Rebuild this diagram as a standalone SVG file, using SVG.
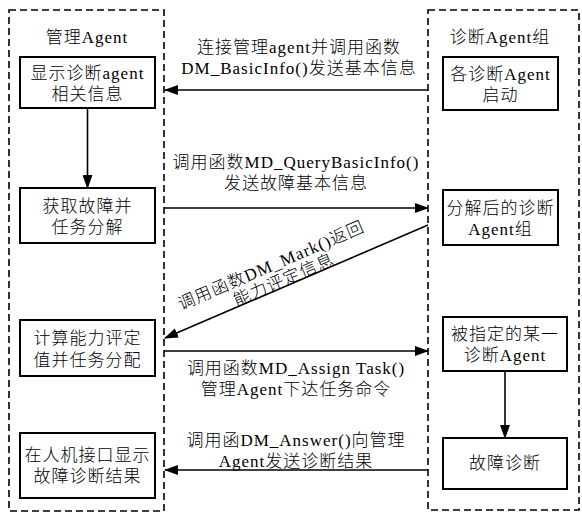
<svg xmlns="http://www.w3.org/2000/svg" width="582" height="515" viewBox="0 0 582 515">
<style>
text{font-family:"Liberation Serif","Noto Sans CJK SC",serif;font-size:17px;font-weight:300;fill:#000;text-anchor:middle;letter-spacing:1px}
.box{fill:#fff;stroke:#000;stroke-width:2}
.dash{fill:none;stroke:#000;stroke-width:1.6;stroke-dasharray:7,4}
.ln{stroke:#000;stroke-width:1.6;fill:none}
</style>
<defs>
<marker id="ah" markerUnits="userSpaceOnUse" markerWidth="14" markerHeight="10" refX="13" refY="5" orient="auto">
<path d="M0,0 L14,5 L0,10 Z" fill="#000"/>
</marker>
</defs>
<g id="lane-manager">
<rect class="dash" x="9" y="10" width="155" height="501"/>
<text x="87" y="43">管理Agent</text>
</g>
<g id="lane-diag">
<rect class="dash" x="428" y="10" width="151" height="500"/>
<text x="500" y="43">诊断Agent组</text>
</g>
<g id="n1"><rect class="box" x="20" y="57" width="135" height="51"/><text x="87.5" y="79">显示诊断agent</text><text x="87.5" y="100">相关信息</text></g>
<g id="n2"><rect class="box" x="20" y="188" width="135" height="55"/><text x="87.5" y="212">获取故障并</text><text x="87.5" y="233">任务分解</text></g>
<g id="n3"><rect class="box" x="20" y="320" width="135" height="56"/><text x="87.5" y="344">计算能力评定</text><text x="87.5" y="366">值并任务分配</text></g>
<g id="n4"><rect class="box" x="20" y="433" width="135" height="65"/><text x="87.5" y="461">在人机接口显示</text><text x="87.5" y="482">故障诊断结果</text></g>
<g id="nA"><rect class="box" x="443" y="57" width="115" height="53"/><text x="500.5" y="80">各诊断Agent</text><text x="500.5" y="101">启动</text></g>
<g id="nB"><rect class="box" x="443" y="190" width="115" height="55"/><text x="500.5" y="214">分解后的诊断</text><text x="500.5" y="235">Agent组</text></g>
<g id="nC"><rect class="box" x="443" y="317" width="124" height="54"/><text x="505" y="340">被指定的某一</text><text x="505" y="361">诊断Agent</text></g>
<g id="nD"><rect class="box" x="443" y="438" width="124" height="51"/><text x="505" y="469">故障诊断</text></g>
<g id="connectors">
<line class="ln" x1="428" y1="90" x2="165" y2="90" marker-end="url(#ah)"/>
<line class="ln" x1="87.5" y1="108" x2="87.5" y2="188" marker-end="url(#ah)"/>
<line class="ln" x1="164" y1="208" x2="428" y2="208" marker-end="url(#ah)"/>
<line class="ln" x1="428" y1="225" x2="165" y2="338" marker-end="url(#ah)"/>
<line class="ln" x1="164" y1="351" x2="428" y2="351" marker-end="url(#ah)"/>
<line class="ln" x1="428" y1="470" x2="165" y2="470" marker-end="url(#ah)"/>
<line class="ln" x1="505" y1="371" x2="505" y2="438" marker-end="url(#ah)"/>
<text x="299" y="53">连接管理agent并调用函数</text>
<text x="299" y="74">DM_BasicInfo()发送基本信息</text>
<text x="296" y="168">调用函数MD_QueryBasicInfo()</text>
<text x="296" y="189">发送故障基本信息</text>
<g transform="translate(277,279) rotate(-23.2)">
<text x="0" y="-9">调用函数DM_Mark()返回</text>
<text x="6" y="9">能力评定信息</text>
</g>
<text x="296" y="374">调用函数MD_Assign Task()</text>
<text x="296" y="395">管理Agent下达任务命令</text>
<text x="296" y="446">调用函DM_Answer()向管理</text>
<text x="296" y="467">Agent发送诊断结果</text>
</g>
</svg>
